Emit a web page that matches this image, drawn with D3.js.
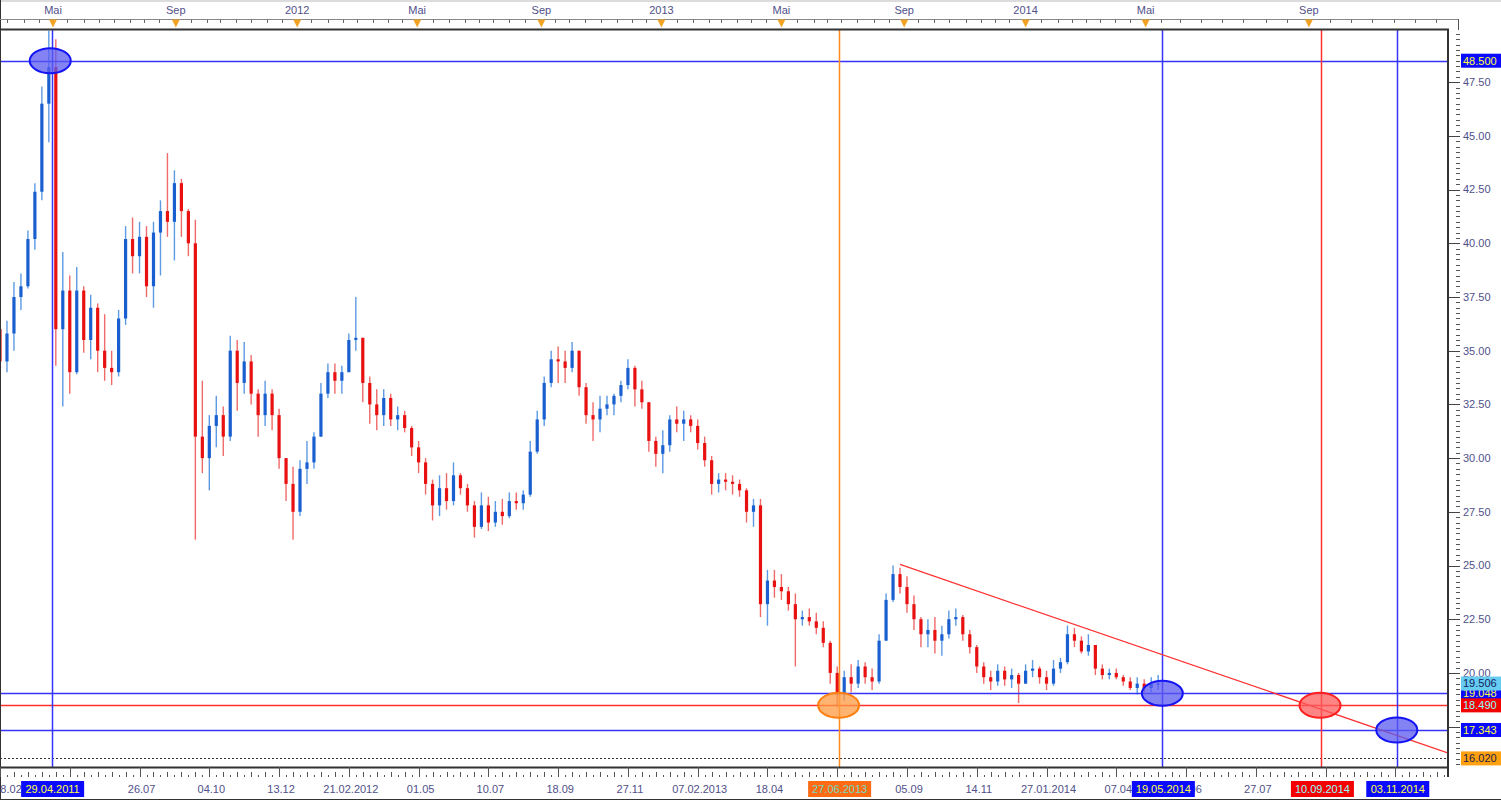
<!DOCTYPE html>
<html>
<head>
<meta charset="utf-8">
<script src="https://cdn.jsdelivr.net/npm/d3@7"></script>
<style>
  body { margin: 0; background: #fff; }
  svg { display: block; }
  text { font-family: "Liberation Sans", Arial, sans-serif; font-size: 11px; }
</style>
</head>
<body>
<svg id="chart" width="1501" height="800"></svg>
<script>
// weekly bars, first week starts on Monday 07.03.2011
const dataStart = '2011-03-07';
const lastBarDay = '2014-05-19';
const viewStart = '2011-03-09';
const viewEnd = '2014-12-09';

const weekOpen = [
  36.0, 34.5, 35.8, 37.5, 38.0, 40.2, 42.4, 46.5, 48.2, 36.0, 37.8, 34.0, 37.8, 35.5, 37.0, 35.0, 34.2, 34.0, 36.5, 40.2,
  39.4, 40.3, 38.0, 40.5, 41.5, 41.0, 42.8, 41.5, 40.0, 31.0, 30.0, 31.5, 32.0, 31.0, 35.0, 33.5, 34.5, 33.0, 32.0, 33.0,
  32.0, 30.0, 28.8, 27.5, 29.5, 29.8, 31.0, 33.0, 34.0, 33.6, 34.0, 35.5, 35.6, 33.5, 32.5, 32.0, 32.8, 31.8, 32.0, 31.4,
  30.5, 29.8, 28.8, 27.8, 28.6, 28.0, 29.2, 28.6, 27.8, 26.8, 27.8, 27.0, 27.5, 27.3, 28.0, 27.9, 28.3, 30.3, 31.8, 33.5,
  34.6, 34.5, 34.2, 35.0, 33.3, 32.0, 31.8, 32.3, 32.5, 32.9, 33.4, 34.2, 33.2, 32.6, 30.8, 30.2, 30.6, 31.8, 31.6, 31.8,
  31.5, 30.7, 29.9, 28.8, 29.0, 28.9, 28.8, 28.5, 27.5, 27.8, 23.2, 24.3, 24.0, 23.8, 23.2, 22.5, 22.6, 22.4, 22.1, 21.4,
  20.0, 19.0, 19.8, 19.5, 20.3, 19.8, 19.6, 21.5, 23.4, 24.6, 24.0, 23.2, 22.5, 21.8, 22.0, 21.5, 21.8, 22.5, 22.6, 21.8,
  21.2, 20.3, 19.8, 19.6, 20.1, 19.7, 19.9, 19.5, 20.1, 20.2, 19.8, 19.5, 20.2, 20.5, 21.8, 21.5, 21.0, 21.3, 20.2, 19.9,
  20.0, 19.8, 19.6, 19.3, 19.5, 19.3, 19.5
];
const weekHigh = [
  36.4, 36.4, 38.2, 38.6, 40.6, 42.8, 47.3, 49.9, 49.5, 39.6, 38.5, 38.9, 38.0, 37.6, 37.2, 36.7, 35.0, 36.9, 40.8, 41.2,
  41.0, 40.8, 41.0, 42.0, 44.2, 43.4, 43.0, 41.6, 41.1, 33.6, 32.0, 32.9, 32.4, 35.7, 35.5, 35.4, 34.8, 33.2, 33.6, 33.2,
  32.3, 30.0, 29.6, 29.9, 30.8, 31.2, 33.5, 34.4, 34.4, 34.3, 35.8, 37.5, 35.6, 33.8, 33.2, 33.2, 33.0, 32.4, 32.2, 31.5,
  30.8, 30.0, 29.0, 29.2, 29.3, 29.8, 29.3, 28.8, 28.0, 28.4, 28.2, 28.0, 28.1, 28.4, 28.4, 28.5, 30.8, 32.2, 33.8, 35.0,
  35.2, 35.0, 35.4, 35.0, 33.5, 32.6, 32.9, 32.9, 33.0, 33.6, 34.6, 34.3, 33.6, 32.6, 31.0, 31.3, 32.0, 32.4, 32.2, 32.0,
  31.8, 31.0, 30.1, 29.3, 29.3, 29.2, 29.0, 28.6, 28.1, 28.1, 24.8, 24.8, 24.6, 24.0, 23.7, 22.9, 23.0, 22.8, 22.4, 21.5,
  20.3, 20.1, 20.4, 20.6, 20.5, 20.2, 21.8, 23.7, 25.0, 24.9, 24.5, 23.6, 22.6, 22.5, 22.6, 22.2, 22.9, 23.0, 22.7, 22.0,
  21.3, 20.5, 20.1, 20.4, 20.3, 20.2, 20.0, 20.4, 20.6, 20.3, 20.1, 20.6, 20.7, 22.2, 22.1, 21.7, 21.8, 21.3, 20.4, 20.2,
  20.2, 19.9, 19.8, 19.8, 19.7, 19.8, 19.9
];
const weekLow = [
  33.6, 34.0, 35.0, 36.9, 37.9, 39.7, 42.0, 44.7, 34.3, 32.4, 33.0, 33.9, 34.9, 34.6, 34.0, 33.6, 33.4, 33.8, 36.2, 38.6,
  38.6, 37.5, 37.0, 38.5, 40.3, 39.2, 40.3, 39.4, 26.2, 29.3, 28.5, 30.5, 30.1, 30.8, 32.2, 33.0, 32.5, 31.0, 31.5, 31.3,
  29.5, 28.0, 26.2, 27.3, 28.8, 29.5, 31.0, 32.8, 33.0, 33.0, 34.0, 35.0, 32.6, 31.6, 31.3, 31.5, 31.5, 31.3, 31.2, 30.1,
  29.3, 28.3, 27.1, 27.3, 27.6, 27.8, 28.3, 27.5, 26.3, 26.7, 26.6, 26.8, 26.9, 27.2, 27.6, 27.6, 28.2, 30.2, 31.5, 33.3,
  33.5, 33.5, 34.0, 32.9, 31.6, 30.8, 31.2, 32.0, 32.0, 32.6, 33.2, 32.4, 32.3, 30.3, 29.6, 29.3, 30.3, 31.2, 30.8, 31.2,
  30.4, 29.6, 28.3, 28.4, 28.5, 28.3, 28.2, 27.0, 26.8, 22.6, 22.2, 23.5, 23.4, 22.9, 20.3, 22.2, 22.2, 21.8, 21.2, 19.5,
  18.4, 18.7, 19.1, 19.3, 19.5, 19.2, 19.5, 21.5, 23.3, 23.7, 22.8, 22.0, 21.2, 21.2, 20.9, 20.8, 21.6, 22.2, 21.5, 20.9,
  20.0, 19.5, 19.2, 19.4, 19.4, 19.3, 18.6, 19.5, 19.8, 19.5, 19.2, 19.4, 20.0, 20.4, 21.2, 20.9, 20.8, 19.9, 19.7, 19.7,
  19.7, 19.4, 19.2, 19.0, 19.1, 19.1, 19.2
];
const weekClose = [
  34.5, 35.8, 37.5, 38.0, 40.2, 42.4, 46.5, 48.2, 36.0, 37.8, 34.0, 37.8, 35.5, 37.0, 35.0, 34.2, 34.0, 36.5, 40.2, 39.4,
  40.3, 38.0, 40.5, 41.5, 41.0, 42.8, 41.5, 40.0, 31.0, 30.0, 31.5, 32.0, 31.0, 35.0, 33.5, 34.5, 33.0, 32.0, 33.0, 32.0,
  30.0, 28.8, 27.5, 29.5, 29.8, 31.0, 33.0, 34.0, 33.6, 34.0, 35.5, 35.6, 33.5, 32.5, 32.0, 32.8, 31.8, 32.0, 31.4, 30.5,
  29.8, 28.8, 27.8, 28.6, 28.0, 29.2, 28.6, 27.8, 26.8, 27.8, 27.0, 27.5, 27.3, 28.0, 27.9, 28.3, 30.3, 31.8, 33.5, 34.6,
  34.5, 34.2, 35.0, 33.3, 32.0, 31.8, 32.3, 32.5, 32.9, 33.4, 34.2, 33.2, 32.6, 30.8, 30.2, 30.6, 31.8, 31.6, 31.8, 31.5,
  30.7, 29.9, 28.8, 29.0, 28.9, 28.8, 28.5, 27.5, 27.8, 23.2, 24.3, 24.0, 23.8, 23.2, 22.5, 22.6, 22.4, 22.1, 21.4, 20.0,
  19.0, 19.8, 19.5, 20.3, 19.8, 19.6, 21.5, 23.4, 24.6, 24.0, 23.2, 22.5, 21.8, 22.0, 21.5, 21.8, 22.5, 22.6, 21.8, 21.2,
  20.3, 19.8, 19.6, 20.1, 19.7, 19.9, 19.5, 20.1, 20.2, 19.8, 19.5, 20.2, 20.5, 21.8, 21.5, 21.0, 21.3, 20.2, 19.9, 20.0,
  19.8, 19.6, 19.3, 19.5, 19.3, 19.5, 19.506
];

// axis texts ('' = slot covered by a date tag)
const topLabels = ['Mai', 'Sep', '2012', 'Mai', 'Sep', '2013', 'Mai', 'Sep', '2014', 'Mai', 'Sep'];
const bottomLabels = ['18.02', '', '26.07', '04.10', '13.12', '21.02.2012', '01.05', '10.07', '18.09', '27.11',
  '07.02.2013', '18.04', '', '05.09', '14.11', '27.01.2014', '07.04', '09.06', '27.07', '', ''];
const priceTicks = [17.5, 20, 22.5, 25, 27.5, 30, 32.5, 35, 37.5, 40, 42.5, 45, 47.5];

// drawings on the chart
const vLineDates = ['2011-04-29', '2013-06-27', '2014-05-19', '2014-09-10', '2014-11-03'];
const vLineKinds = ['blue', 'orange', 'blue', 'red', 'blue'];
const hLineValues = [48.5, 19.048, 18.49, 17.343];
const hLineKinds = ['blue', 'blue', 'red', 'blue'];
const supportLevel = 16.02;
const lastPrice = 19.506;
const trendDates = ['2013-08-28', '2014-09-10'];
const trendValues = [25.05, 18.3];
const markerDates = ['2011-04-28', '2013-06-27', '2014-05-19', '2014-09-09', '2014-11-03'];
const markerValues = [48.5, 18.49, 19.048, 18.49, 17.343];
const markerKinds = ['blue', 'orange', 'blue', 'red', 'blue'];

const kinds = {
  blue: { line: '#3434ff', fill: '#5a5af0', stroke: '#1414f5', tag: '#0a0aff', text: '#ffff40' },
  red: { line: '#ff3030', fill: '#ff5c5c', stroke: '#ff2020', tag: '#f50000', text: '#8cffff' },
  orange: { line: '#ff8a1e', fill: '#ff9a40', stroke: '#ff8010', tag: '#ff6a14', text: '#70dcc0' },
};

const plot = { left: 0, right: 1447, top: 30, bottom: 767 };
const axisColor = '#50508a';

const svg = d3.select('#chart');
const parse = d3.timeParse('%Y-%m-%d');
const firstMonday = parse(dataStart);
const cutoff = parse(lastBarDay);

// trading days up to the last bar, calendar days after it
const slotOf = (date) => {
  if (date > cutoff) return slotOf(cutoff) + d3.timeDay.count(cutoff, date);
  const weeks = d3.timeMonday.count(firstMonday, date);
  const dow = Math.min(d3.timeDay.count(d3.timeMonday.floor(date), date), 5);
  return weeks * 5 + dow;
};

const x = d3.scaleLinear()
  .domain([slotOf(parse(viewStart)), slotOf(parse(viewEnd))])
  .range([plot.left, plot.right]);
const xDate = (s) => x(slotOf(typeof s === 'string' ? parse(s) : s));
const y = d3.scaleLinear().domain([15.62, 49.93]).range([plot.bottom, plot.top]);
const px = (v) => Math.round(v) + 0.5;

svg.append('rect').attr('width', 1501).attr('height', 800).attr('fill', '#fff');
svg.append('rect').attr('width', 1501).attr('height', 2).attr('fill', '#dcdcdc');

svg.append('clipPath').attr('id', 'plotClip')
  .append('rect')
  .attr('x', plot.left).attr('y', plot.top)
  .attr('width', plot.right - plot.left).attr('height', plot.bottom - plot.top);

const plotG = svg.append('g').attr('clip-path', 'url(#plotClip)');

// candles
const weeks = weekOpen.map((o, i) => ({
  date: d3.timeMonday.offset(firstMonday, i),
  o, h: weekHigh[i], l: weekLow[i], c: weekClose[i],
}));
const cx = (d) => x(slotOf(d.date) + 2);
const up = (d) => d.c >= d.o;

const candles = plotG.append('g').selectAll('g').data(weeks).join('g');
candles.append('line')
  .attr('x1', cx).attr('x2', cx)
  .attr('y1', (d) => y(d.h)).attr('y2', (d) => y(d.l))
  .attr('stroke', (d) => (up(d) ? '#5c9ae4' : '#f06a6a'))
  .attr('stroke-width', 1.4);
candles.append('rect')
  .attr('x', (d) => cx(d) - 1.6)
  .attr('width', 3.2)
  .attr('y', (d) => y(Math.max(d.o, d.c)))
  .attr('height', (d) => Math.max(1.2, Math.abs(y(d.o) - y(d.c))))
  .attr('fill', (d) => (up(d) ? '#1a5fd0' : '#e81010'));

// horizontal levels
plotG.append('g').selectAll('line').data(hLineValues).join('line')
  .attr('x1', plot.left).attr('x2', plot.right)
  .attr('y1', (d) => px(y(d))).attr('y2', (d) => px(y(d)))
  .attr('stroke', (d, i) => kinds[hLineKinds[i]].line)
  .attr('stroke-width', 1.3);

plotG.append('line')
  .attr('x1', plot.left).attr('x2', plot.right)
  .attr('y1', px(y(supportLevel))).attr('y2', px(y(supportLevel)))
  .attr('stroke', '#333').attr('stroke-dasharray', '2,2')
  .attr('shape-rendering', 'crispEdges');

// vertical time lines
plotG.append('g').selectAll('line').data(vLineDates).join('line')
  .attr('x1', (d) => px(xDate(d))).attr('x2', (d) => px(xDate(d)))
  .attr('y1', plot.top).attr('y2', plot.bottom)
  .attr('stroke', (d, i) => kinds[vLineKinds[i]].line)
  .attr('stroke-width', 1.5);

// trend line, extended to the right border
const t0 = [xDate(trendDates[0]), y(trendValues[0])];
const t1 = [xDate(trendDates[1]), y(trendValues[1])];
const slope = (t1[1] - t0[1]) / (t1[0] - t0[0]);
plotG.append('line')
  .attr('x1', t0[0]).attr('y1', t0[1])
  .attr('x2', plot.right).attr('y2', t0[1] + slope * (plot.right - t0[0]))
  .attr('stroke', '#ff3030').attr('stroke-width', 1.2);

// ellipse markers
plotG.append('g').selectAll('ellipse').data(markerDates).join('ellipse')
  .attr('cx', (d) => xDate(d))
  .attr('cy', (d, i) => y(markerValues[i]))
  .attr('rx', 20.5).attr('ry', 12.5)
  .attr('fill', (d, i) => kinds[markerKinds[i]].fill)
  .attr('fill-opacity', 0.75)
  .attr('stroke', (d, i) => kinds[markerKinds[i]].stroke)
  .attr('stroke-width', 2);

// frame
const frame = svg.append('g').attr('stroke', '#333');
frame.append('line').attr('x1', 0).attr('x2', plot.right + 2).attr('y1', 29.5).attr('y2', 29.5).attr('stroke-width', 2);
frame.append('line').attr('x1', 0).attr('x2', plot.right + 2).attr('y1', plot.bottom + 0.5).attr('y2', plot.bottom + 0.5).attr('stroke-width', 2);
frame.append('line').attr('x1', plot.right + 1).attr('x2', plot.right + 1).attr('y1', 29).attr('y2', 777).attr('stroke-width', 2);
frame.append('line').attr('x1', 0.5).attr('x2', 0.5).attr('y1', 0).attr('y2', 800).attr('stroke-width', 1);
frame.append('line').attr('x1', 0).attr('x2', 1501).attr('y1', 799.5).attr('y2', 799.5).attr('stroke-width', 1);

// top axis
const topG = svg.append('g');
topG.append('line').attr('x1', 0).attr('x2', 1458).attr('y1', 19.5).attr('y2', 19.5).attr('stroke', '#8a8a8a');
topG.append('line').attr('x1', 1458.5).attr('x2', 1458.5).attr('y1', 19).attr('y2', 30).attr('stroke', '#555');

const monthStarts = d3.timeMonth.every(4).range(parse('2011-05-01'), parse('2014-10-01'));
const halfMonths = d3.timeMonth.range(parse('2011-03-01'), parse('2015-01-01'))
  .flatMap((m) => [m, d3.timeDay.offset(m, 15)])
  .filter((d) => !monthStarts.some((m) => +m === +d))
  .filter((d) => xDate(d) > 1 && xDate(d) < 1455);

topG.selectAll('line.minor').data(halfMonths).join('line')
  .attr('class', 'minor')
  .attr('x1', (d) => px(xDate(d))).attr('x2', (d) => px(xDate(d)))
  .attr('y1', 19.5).attr('y2', 23)
  .attr('stroke', '#666');

topG.selectAll('path').data(monthStarts).join('path')
  .attr('d', (d) => {
    const mx = xDate(d);
    return `M${mx - 4},19.5L${mx + 4},19.5L${mx},27.5Z`;
  })
  .attr('fill', '#f2a324');

topG.selectAll('text').data(monthStarts).join('text')
  .attr('x', (d) => xDate(d))
  .attr('y', 10)
  .attr('dy', '0.35em')
  .attr('text-anchor', 'middle')
  .attr('fill', axisColor)
  .text((d, i) => topLabels[i]);

// bottom axis
const slot0 = x.domain()[0];
const minorSlots = d3.range(slot0, x.domain()[1], 5);
const bottomG = svg.append('g').attr('shape-rendering', 'crispEdges');
bottomG.selectAll('line.minor').data(minorSlots).join('line')
  .attr('class', 'minor')
  .attr('x1', (d) => px(x(d))).attr('x2', (d) => px(x(d)))
  .attr('y1', (d) => ((d - slot0) % 10 === 0 ? 772 : 774.5)).attr('y2', 777)
  .attr('stroke', '#555');

const majorSlots = bottomLabels.map((t, k) => slot0 + 50 * k);
bottomG.selectAll('line.major').data(majorSlots).join('line')
  .attr('class', 'major')
  .attr('x1', (d) => px(x(d))).attr('x2', (d) => px(x(d)))
  .attr('y1', 767).attr('y2', 777)
  .attr('stroke', '#555');

svg.append('g').selectAll('text').data(majorSlots.filter((d, i) => bottomLabels[i])).join('text')
  .attr('x', (d) => Math.max(x(d) + 2, 8))
  .attr('y', 789)
  .attr('dy', '0.35em')
  .attr('text-anchor', 'middle')
  .attr('fill', axisColor)
  .text((d) => bottomLabels[majorSlots.indexOf(d)]);

// right price axis
const rightG = svg.append('g').attr('shape-rendering', 'crispEdges');
rightG.selectAll('line.minor').data(d3.range(15.75, 49.9, 0.25)).join('line')
  .attr('class', 'minor')
  .attr('x1', 1455.5).attr('x2', 1460)
  .attr('y1', (d) => px(y(d))).attr('y2', (d) => px(y(d)))
  .attr('stroke', '#555');
rightG.selectAll('line.major').data(priceTicks).join('line')
  .attr('class', 'major')
  .attr('x1', 1449).attr('x2', 1460)
  .attr('y1', (d) => px(y(d))).attr('y2', (d) => px(y(d)))
  .attr('stroke', '#444');
svg.append('g').selectAll('text').data(priceTicks.filter((v) => v >= 20)).join('text')
  .attr('x', 1463)
  .attr('y', (d) => y(d))
  .attr('dy', '0.35em')
  .attr('fill', axisColor)
  .text((d) => d3.format('.2f')(d));

// price tags on the right
const priceTags = [
  { value: hLineValues[1], fill: kinds.blue.tag, color: kinds.blue.text },
  { value: lastPrice, fill: '#66ccf2', color: '#14205a' },
  { value: hLineValues[2], fill: kinds.red.tag, color: kinds.red.text },
  { value: hLineValues[0], fill: kinds.blue.tag, color: kinds.blue.text },
  { value: hLineValues[3], fill: kinds.blue.tag, color: kinds.blue.text },
  { value: supportLevel, fill: '#ffa010', color: '#202048' },
];
const tagG = svg.append('g').selectAll('g').data(priceTags).join('g')
  .attr('transform', (d) => `translate(1461,${y(d.value)})`);
tagG.append('rect')
  .attr('x', 0).attr('y', -7).attr('width', 40).attr('height', 14)
  .attr('fill', (d) => d.fill);
tagG.append('text')
  .attr('x', 2).attr('dy', '0.36em')
  .attr('fill', (d) => d.color)
  .text((d) => d3.format('.3f')(d.value));

// date tags under the vertical lines
const dateFmt = d3.timeFormat('%d.%m.%Y');
const dateTags = svg.append('g').selectAll('g').data(vLineDates).join('g')
  .attr('transform', (d) => `translate(${xDate(d) + 1},789)`);
dateTags.append('rect')
  .attr('x', -31.5).attr('y', -8).attr('width', 63).attr('height', 16)
  .attr('fill', (d, i) => kinds[vLineKinds[i]].tag);
dateTags.append('text')
  .attr('text-anchor', 'middle').attr('dy', '0.36em')
  .attr('fill', (d, i) => kinds[vLineKinds[i]].text)
  .text((d) => dateFmt(parse(d)));
</script>
</body>
</html>
